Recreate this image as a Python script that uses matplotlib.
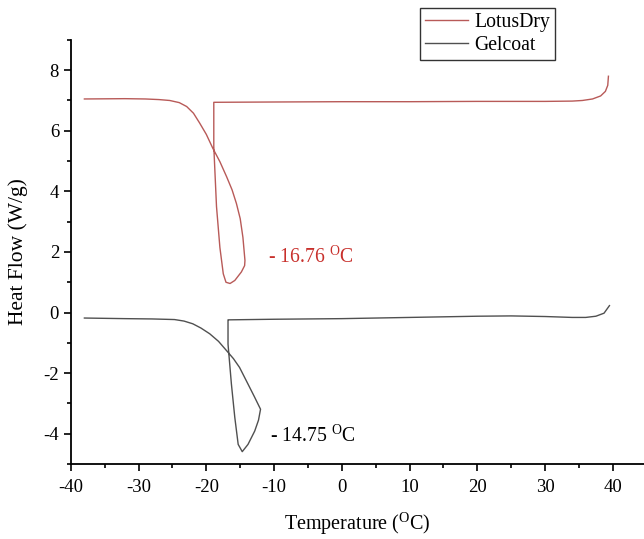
import matplotlib
matplotlib.use("Agg")
import matplotlib.pyplot as plt
from matplotlib.ticker import MultipleLocator

plt.rcParams['font.family'] = ['Liberation Serif', 'DejaVu Serif']
plt.rcParams['mathtext.fontset'] = 'custom'
plt.rcParams['mathtext.rm'] = 'Liberation Serif'
plt.rcParams['axes.unicode_minus'] = False

# LotusDry curve (temperature, heat flow)
lotus_t = [-38, -32, -29, -27, -25.4, -24, -22.9, -21.9, -21.0, -20.0, -19.06, -18.0, -17.0,
           -16.2, -15.56, -15.0, -14.6, -14.3, -14.35, -14.83, -15.8, -16.5, -17.1, -17.5,
           -18.0, -18.5, -18.9, -18.9, -18.9, -10, 0, 10, 20, 30, 34, 35.5, 37, 38.2, 38.9,
           39.25, 39.35]
lotus_hf = [7.05, 7.06, 7.05, 7.03, 7.0, 6.93, 6.8, 6.58, 6.26, 5.88, 5.43, 4.98, 4.48,
            4.05, 3.6, 3.1, 2.48, 1.72, 1.55, 1.34, 1.06, 0.96, 1.0, 1.28,
            2.15, 3.5, 5.48, 6.94, 6.94, 6.95, 6.96, 6.96, 6.97, 6.97, 6.98, 7.0, 7.05, 7.15,
            7.3, 7.5, 7.8]

# Gelcoat curve
gel_t = [-38, -32, -28, -24.7, -23.3, -22.0, -20.8, -19.5, -18.2, -17.0, -16.0, -15.1,
         -13.85, -12.9, -12.0, -12.3, -12.86, -13.85, -14.7, -15.3, -15.8, -16.3, -16.8,
         -16.8, -16.8, -10, 0, 10, 20, 25, 30, 34, 36, 37.5, 38.7, 39.5]
gel_hf = [-0.18, -0.2, -0.21, -0.23, -0.28, -0.37, -0.51, -0.70, -0.95, -1.26, -1.52, -1.81,
          -2.36, -2.78, -3.19, -3.55, -3.91, -4.35, -4.59, -4.35, -3.46, -2.36, -1.04,
          -0.26, -0.24, -0.22, -0.2, -0.16, -0.12, -0.11, -0.13, -0.16, -0.16, -0.12, -0.02,
          0.23]

lotus_peak = "- 16.76 $^{\\mathrm{O}}$C"
gel_peak = "- 14.75 $^{\\mathrm{O}}$C"

fig = plt.figure(figsize=(6.44, 5.39), dpi=100)
ax = fig.add_axes([0.110, 0.139, 0.890, 0.787])

ax.plot(lotus_t, lotus_hf, color='#b85a58', lw=1.0, label='LotusDry')
ax.plot(gel_t, gel_hf, color='#505050', lw=1.0, label='Gelcoat')

ax.text(-10.9, 1.85, lotus_peak, color='#c8302c', fontsize=14.2, va='center')
ax.text(-10.6, -4.07, gel_peak, color='black', fontsize=14.2, va='center')

ax.set_xlim(-40, 44.6)
ax.set_ylim(-5, 9)
ax.xaxis.set_major_locator(MultipleLocator(10))
ax.xaxis.set_minor_locator(MultipleLocator(5))
ax.yaxis.set_major_locator(MultipleLocator(2))
ax.yaxis.set_minor_locator(MultipleLocator(1))
ax.set_yticks([-4, -2, 0, 2, 4, 6, 8])
ax.tick_params(which='major', direction='out', length=5, width=1.2, labelsize=13.5)
ax.tick_params(axis='x', which='major', pad=6)
ax.tick_params(which='minor', direction='out', length=3, width=1.2)
for s in ['top', 'right']:
    ax.spines[s].set_visible(False)
for s in ['left', 'bottom']:
    ax.spines[s].set_linewidth(1.3)

ax.set_xlabel("Temperature ($^{\\mathrm{O}}$C)", fontsize=14.5, labelpad=10)
ax.set_ylabel("Heat Flow (W/g)", fontsize=15.5, labelpad=11)

leg = ax.legend(loc='upper left', bbox_to_anchor=(0.652, 0.985), bbox_transform=fig.transFigure,
                fontsize=14.2, frameon=True, fancybox=False, handlelength=2.2,
                borderpad=0.25, labelspacing=0.2, handletextpad=0.3, borderaxespad=0)
leg.get_frame().set_edgecolor('black')
leg.get_frame().set_linewidth(1.0)

fig.savefig("out.png", dpi=100)
